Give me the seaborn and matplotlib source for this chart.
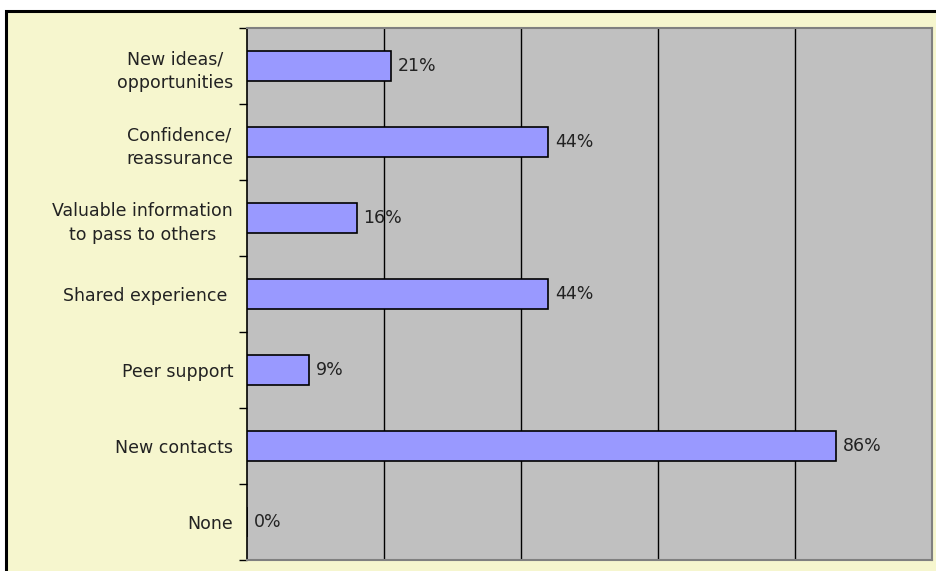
import matplotlib
matplotlib.use("Agg")
import matplotlib.pyplot as plt
from matplotlib.patches import Rectangle
from matplotlib.ticker import FixedLocator
import seaborn as sns
import pandas as pd

categories = [
    "New ideas/\nopportunities",
    "Confidence/\nreassurance",
    "Valuable information\nto pass to others",
    "Shared experience ",
    "Peer support",
    "New contacts",
    "None",
]
values = [21, 44, 16, 44, 9, 86, 0]
value_labels = ["21%", "44%", "16%", "44%", "9%", "86%", "0%"]

sns.set_style("white")
plt.rcParams["font.family"] = ["DejaVu Sans"]

BG = "#F6F6CE"
PLOT_BG = "#C0C0C0"
BAR = "#9999FF"
TEXT = "#222222"

fig = plt.figure(figsize=(9.37, 5.71), dpi=100)
fig.patch.set_facecolor("white")

# chart frame: yellow area with black border on top and left
frame = Rectangle((6.5 / 937, -0.1), 1.2, 1 - 11 / 571 + 0.1,
                  transform=fig.transFigure, facecolor=BG, edgecolor="black",
                  linewidth=2.2, zorder=-5)
fig.patches.append(frame)

ax = fig.add_axes([247 / 937, 1 - 560 / 571, (932 - 247) / 937, (560 - 28) / 571])
ax.set_zorder(5)
ax.set_facecolor(PLOT_BG)

df = pd.DataFrame({"category": categories, "value": values})
sns.barplot(data=df, x="value", y="category", orient="h", color=BAR,
            saturation=1, width=0.4, edgecolor="black", linewidth=1.2,
            ax=ax, zorder=3)

ax.set_xlim(0, 100)
ax.set_ylim(len(categories) - 0.5, -0.5)
ax.set_xlabel("")
ax.set_ylabel("")
ax.set_xticks([])
for gx in [20, 40, 60, 80]:
    ax.axvline(gx, color="black", linewidth=1.0, zorder=1)

for i, (v, lab) in enumerate(zip(values, value_labels)):
    ax.text(v + 1.0, i, lab, va="center", ha="left", fontsize=12.5,
            color=TEXT, zorder=4)

ax.set_yticks(range(len(categories)))
ax.set_yticklabels(categories, fontsize=12.5, color=TEXT,
                   multialignment="center", linespacing=1.45)
ax.tick_params(axis="y", which="major", length=0, pad=10)
ax.yaxis.set_minor_locator(FixedLocator([i - 0.5 for i in range(len(categories) + 1)]))
ax.tick_params(axis="y", which="minor", left=True, length=6, width=1,
               color="black", direction="out")

for side in ["top", "right", "bottom"]:
    ax.spines[side].set_color("#808080")
    ax.spines[side].set_linewidth(1.5)
ax.spines["left"].set_color("black")
ax.spines["left"].set_linewidth(1.2)

fig.savefig("out.png", dpi=100, facecolor=fig.get_facecolor())
